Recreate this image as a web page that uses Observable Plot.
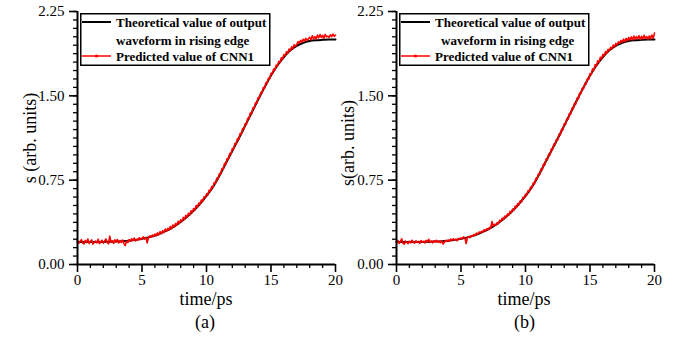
<!DOCTYPE html>
<html><head><meta charset="utf-8">
<script src="https://cdn.jsdelivr.net/npm/d3@7"></script>
<script src="https://cdn.jsdelivr.net/npm/@observablehq/plot@0.6"></script>
<style>
body{margin:0;background:#fff;}
#wrap{position:relative;width:678px;height:337px;overflow:hidden;font-family:"Liberation Serif","Times New Roman",serif;color:#000;}
.panel{position:absolute;top:0;}
.panel svg{overflow:visible;}
.t{position:absolute;font-size:18px;white-space:nowrap;transform:translate(-50%,-50%);line-height:1;}
.ty{position:absolute;font-size:18px;white-space:nowrap;transform:translate(-50%,-50%) rotate(-90deg);line-height:1;}
.leg{position:absolute;}
</style></head><body><div id="wrap"></div>
<script>
// ---- data ----
const xTicks = [0, 5, 10, 15, 20];
const xMinor = [1, 2, 3, 4, 6, 7, 8, 9, 11, 12, 13, 14, 16, 17, 18, 19];
const yTicks = [0, 0.75, 1.5, 2.25];
const yMinorStep = 0.075;
const panelLabels = ["(a)", "(b)"];
const yTitles = ["s (arb. units)", "s(arb. units)"];
const xTitle = "time/ps";
const seriesNames = ["Theoretical value of output", "waveform in rising edge", "Predicted value of CNN1"];

// theoretical rising edge, sampled every 0.5 ps (0..20)
const theoryStep = 0.5;
const theoryVals = [
  0.200, 0.200, 0.200, 0.200, 0.201, 0.202, 0.204, 0.207, 0.212, 0.219,
  0.228, 0.241, 0.258, 0.280, 0.305, 0.338, 0.378, 0.425, 0.478, 0.540,
  0.610, 0.690, 0.790, 0.900, 1.010, 1.120, 1.235, 1.350, 1.465, 1.575,
  1.680, 1.770, 1.845, 1.905, 1.945, 1.972, 1.988, 1.995, 1.998, 2.000,
  2.000
];

// CNN1 predictions, sampled every 0.1 ps (0..20)
const predStep = 0.1;
const predA = [
  0.212, 0.188, 0.205, 0.221, 0.193, 0.183, 0.214, 0.196, 0.226, 0.187,
  0.204, 0.219, 0.181, 0.198, 0.209, 0.192, 0.224, 0.186, 0.201, 0.215,
  0.190, 0.207, 0.227, 0.196, 0.184, 0.252, 0.198, 0.211, 0.188, 0.219,
  0.203, 0.222, 0.192, 0.213, 0.197, 0.218, 0.186, 0.168, 0.209, 0.195,
  0.221, 0.206, 0.229, 0.214, 0.235, 0.209, 0.226, 0.218, 0.238, 0.221,
  0.233, 0.245, 0.226, 0.241, 0.192, 0.236, 0.254, 0.243, 0.262, 0.250,
  0.271, 0.254, 0.281, 0.263, 0.292, 0.274, 0.301, 0.283, 0.315, 0.296,
  0.322, 0.306, 0.339, 0.317, 0.352, 0.333, 0.364, 0.349, 0.384, 0.366,
  0.398, 0.381, 0.419, 0.402, 0.437, 0.421, 0.456, 0.441, 0.478, 0.462,
  0.497, 0.484, 0.524, 0.509, 0.546, 0.535, 0.574, 0.561, 0.601, 0.592,
  0.628, 0.619, 0.661, 0.651, 0.694, 0.684, 0.729, 0.722, 0.768, 0.761,
  0.808, 0.803, 0.853, 0.847, 0.899, 0.891, 0.943, 0.937, 0.987, 0.981,
  1.031, 1.024, 1.075, 1.069, 1.119, 1.112, 1.164, 1.158, 1.209, 1.204,
  1.254, 1.249, 1.301, 1.296, 1.347, 1.342, 1.393, 1.387, 1.439, 1.434,
  1.485, 1.478, 1.529, 1.523, 1.574, 1.566, 1.615, 1.609, 1.657, 1.652,
  1.701, 1.693, 1.737, 1.729, 1.773, 1.765, 1.806, 1.797, 1.838, 1.827,
  1.868, 1.856, 1.892, 1.878, 1.916, 1.902, 1.936, 1.921, 1.955, 1.939,
  1.958, 1.982, 1.969, 1.994, 1.978, 2.003, 1.986, 2.011, 1.993, 2.008,
  2.021, 1.998, 2.034, 2.009, 2.027, 2.004, 2.041, 2.016, 2.045, 2.019,
  2.038, 2.012, 2.046, 2.024, 2.031, 2.019, 2.042, 2.027, 2.048, 2.029, 2.041
];
const predB = [
  0.196, 0.214, 0.187, 0.203, 0.228, 0.192, 0.181, 0.209, 0.198, 0.185,
  0.207, 0.193, 0.216, 0.201, 0.189, 0.211, 0.196, 0.205, 0.188, 0.213,
  0.199, 0.206, 0.192, 0.214, 0.203, 0.224, 0.197, 0.208, 0.193, 0.211,
  0.201, 0.215, 0.199, 0.209, 0.194, 0.212, 0.182, 0.196, 0.214, 0.205,
  0.218, 0.207, 0.226, 0.213, 0.229, 0.218, 0.224, 0.211, 0.232, 0.226,
  0.236, 0.229, 0.245, 0.237, 0.186, 0.241, 0.248, 0.239, 0.256, 0.251,
  0.268, 0.259, 0.279, 0.268, 0.289, 0.281, 0.297, 0.288, 0.309, 0.299,
  0.318, 0.309, 0.331, 0.322, 0.381, 0.342, 0.358, 0.349, 0.372, 0.363,
  0.394, 0.384, 0.412, 0.401, 0.431, 0.419, 0.449, 0.439, 0.472, 0.461,
  0.493, 0.483, 0.519, 0.508, 0.542, 0.531, 0.567, 0.557, 0.597, 0.589,
  0.624, 0.617, 0.657, 0.648, 0.689, 0.682, 0.726, 0.718, 0.764, 0.758,
  0.806, 0.799, 0.849, 0.843, 0.894, 0.887, 0.938, 0.931, 0.982, 0.977,
  1.027, 1.021, 1.071, 1.064, 1.114, 1.109, 1.160, 1.153, 1.204, 1.199,
  1.251, 1.244, 1.297, 1.291, 1.343, 1.338, 1.389, 1.383, 1.434, 1.429,
  1.481, 1.474, 1.525, 1.519, 1.569, 1.563, 1.611, 1.604, 1.653, 1.646,
  1.697, 1.689, 1.741, 1.726, 1.779, 1.764, 1.812, 1.797, 1.842, 1.829,
  1.869, 1.855, 1.893, 1.877, 1.914, 1.901, 1.932, 1.918, 1.951, 1.936,
  1.966, 1.951, 1.981, 1.967, 1.993, 1.976, 2.004, 1.982, 2.011, 1.991,
  2.018, 1.996, 2.024, 1.999, 2.031, 2.003, 2.027, 2.008, 2.035, 2.002,
  2.029, 2.006, 2.038, 2.011, 2.026, 2.004, 2.033, 2.009, 2.041, 2.012, 2.058
];

// ---- build ----
const wrap = document.getElementById("wrap");
const yMinor = d3.range(0, 2.25 + 1e-9, yMinorStep).map(v => +v.toFixed(3));
const theo = theoryVals.map((v, i) => ({t: i * theoryStep, v}));

function makePanel(pred, ml, mr) {
  const p = pred.map((v, i) => ({t: +(i * predStep).toFixed(2), v}));
  return Plot.plot({
    width: 339, height: 290,
    marginLeft: ml, marginRight: mr, marginTop: 11, marginBottom: 26,
    x: {domain: [0, 20], label: null},
    y: {domain: [0, 2.25], label: null},
    style: {fontFamily: "'Liberation Serif','Times New Roman',serif", fontSize: "15px", color: "#000", background: "transparent", overflow: "visible"},
    marks: [
      Plot.axisX(xMinor, {tickSize: 4, text: null, strokeWidth: 1.3, label: null}),
      Plot.axisX(xTicks, {tickSize: 8, tickPadding: 2, strokeWidth: 1.6, label: null, fontSize: 15}),
      Plot.axisY(yMinor, {tickSize: 4, text: null, strokeWidth: 1.3, label: null}),
      Plot.axisY(yTicks, {tickSize: 8, tickPadding: 5, strokeWidth: 1.6, tickFormat: d3.format(".2f"), label: null, fontSize: 15}),
      Plot.line(theo, {x: "t", y: "v", stroke: "#000", strokeWidth: 2, curve: "monotone-x"}),
      Plot.line(p, {x: "t", y: "v", stroke: "#ff0000", strokeWidth: 1.6}),
      Plot.ruleY([0], {strokeWidth: 2}),
      Plot.ruleX([0], {strokeWidth: 2})
    ]
  });
}

function addDiv(cls, text, x, y) {
  const d = document.createElement("div");
  d.className = cls; d.textContent = text;
  d.style.left = x + "px"; d.style.top = y + "px";
  wrap.appendChild(d);
}

function addLegend(left, indent2) {
  const ns = "http://www.w3.org/2000/svg";
  const s = document.createElementNS(ns, "svg");
  s.setAttribute("width", 191); s.setAttribute("height", 53);
  s.setAttribute("class", "leg");
  s.style.left = left + "px"; s.style.top = "13px";
  s.innerHTML = `
    <rect x="0.75" y="0.75" width="189" height="51.5" fill="#fff" stroke="#000" stroke-width="1.5"/>
    <line x1="2" x2="31" y1="9" y2="9" stroke="#000" stroke-width="2"/>
    <line x1="2" x2="31" y1="43" y2="43" stroke="#ff0000" stroke-width="1.5"/>
    <circle cx="16.5" cy="43" r="1.6" fill="#ff0000"/>
    <g font-family="'Liberation Serif','Times New Roman',serif" font-weight="bold" font-size="13" fill="#000" dominant-baseline="central">
      <text x="36" y="9">${seriesNames[0]}</text>
      <text x="${36 + indent2}" y="27">${seriesNames[1]}</text>
      <text x="36" y="43">${seriesNames[2]}</text>
    </g>`;
  wrap.appendChild(s);
}

const pa = document.createElement("div"); pa.className = "panel"; pa.style.left = "0px";
pa.appendChild(makePanel(predA, 77, 4)); wrap.appendChild(pa);
const pb = document.createElement("div"); pb.className = "panel"; pb.style.left = "339px";
pb.appendChild(makePanel(predB, 57, 24)); wrap.appendChild(pb);

addLegend(80, 0);
addLegend(399, 6);

addDiv("ty", yTitles[0], 30, 138);
addDiv("t", xTitle, 206, 299);
addDiv("t", panelLabels[0], 205, 322);
addDiv("ty", yTitles[1], 347.5, 143);
addDiv("t", xTitle, 524, 299);
addDiv("t", panelLabels[1], 524.5, 322);
</script>
</body></html>
